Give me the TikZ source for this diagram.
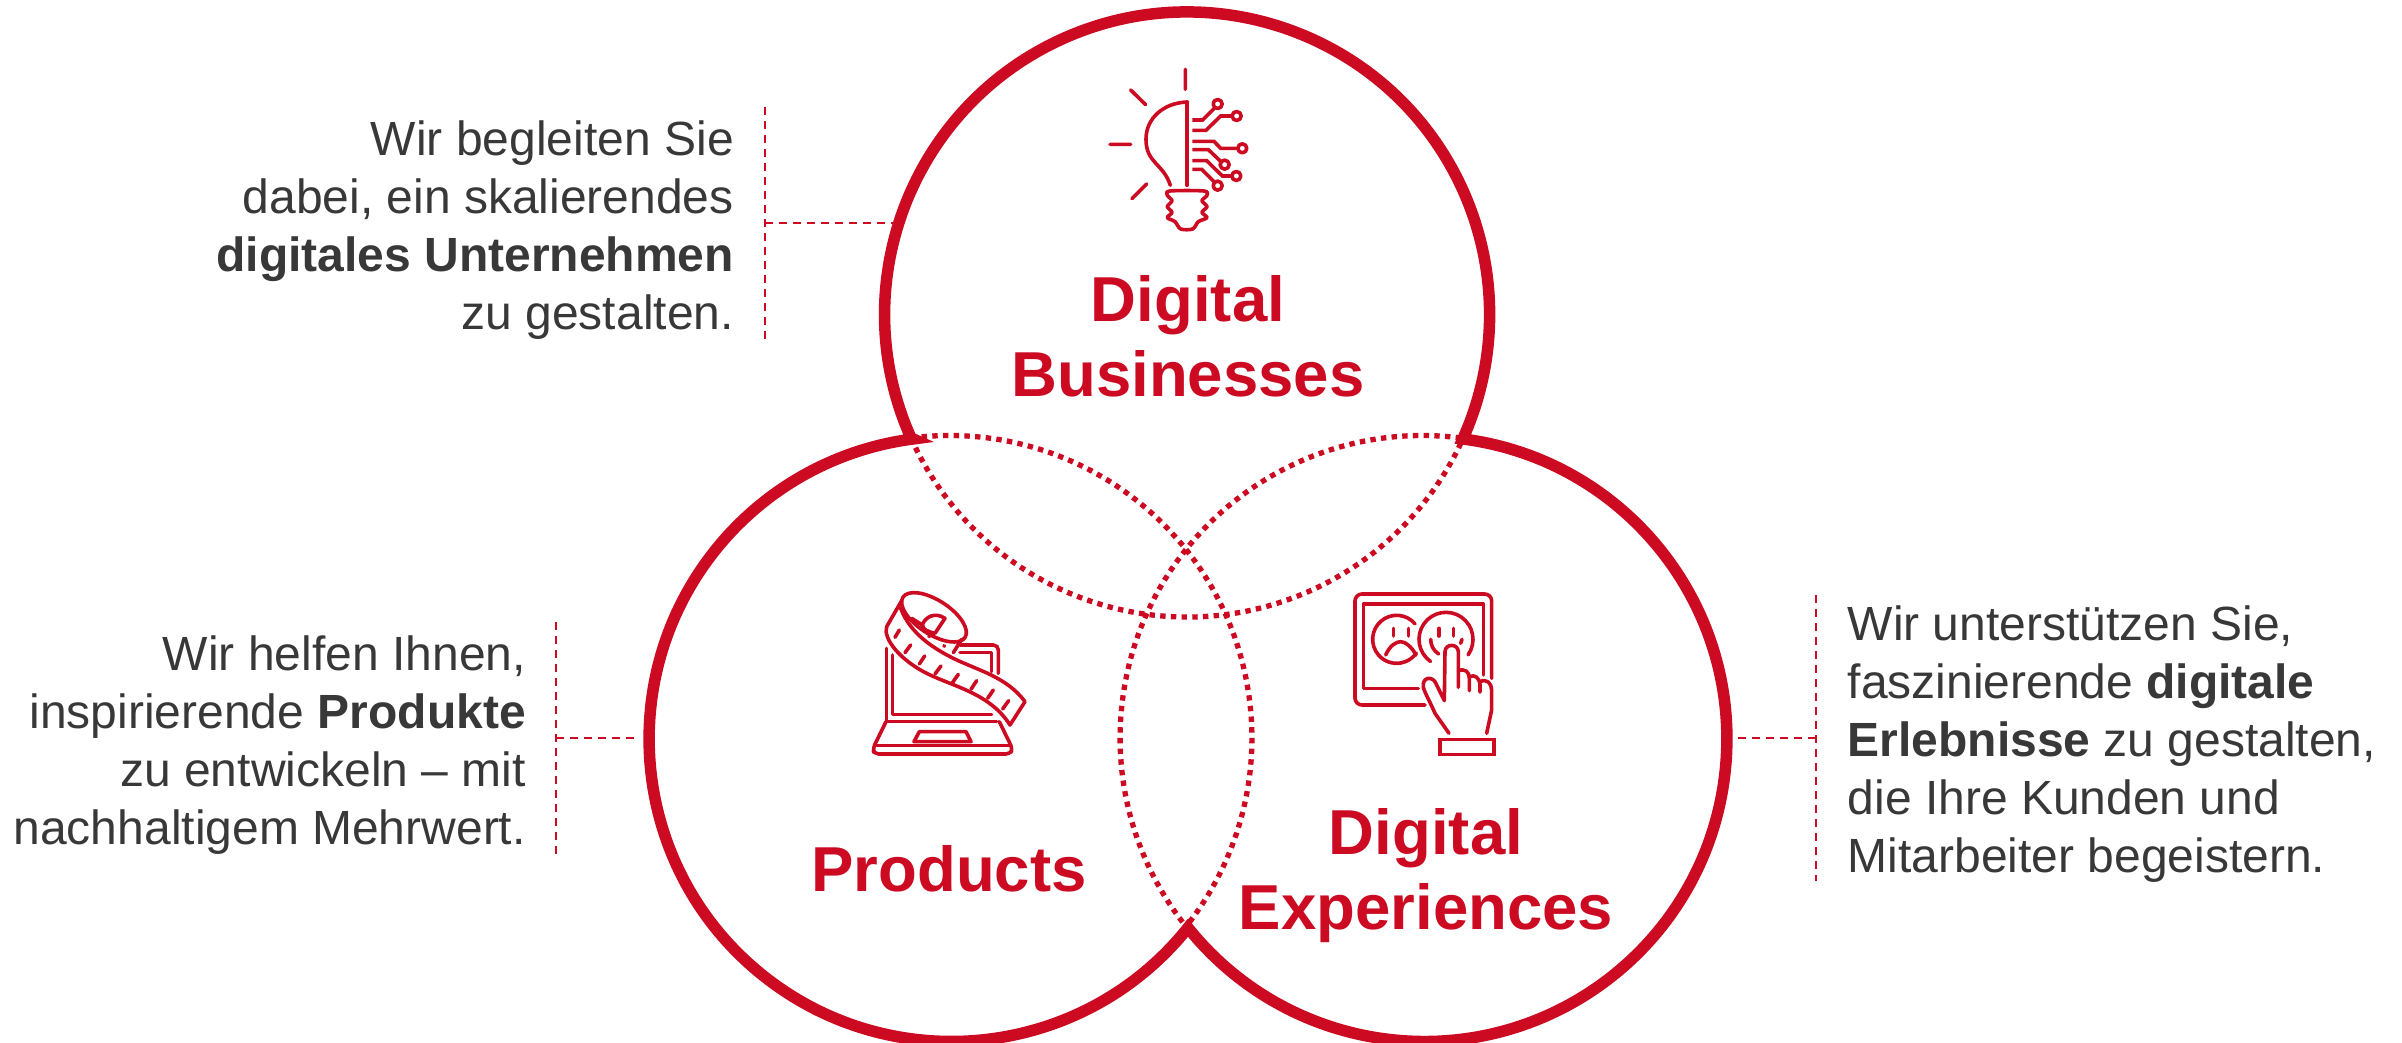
\documentclass[tikz,border=0pt]{standalone}
\usepackage{fontspec}
\setmainfont{Liberation Sans}
\definecolor{brand}{HTML}{CC0A22}
\definecolor{ink}{HTML}{383838}
\tikzset{
  outline/.style={draw=brand,line width=11.5pt,miter limit=10},
  dotline/.style={draw=brand,line width=5.3pt,dash pattern=on 5.4pt off 5.3pt},
  leader/.style={draw=brand,line width=1.6pt,dash pattern=on 8pt off 6pt},
  title/.style={text=brand,font=\fontsize{63.5}{75}\selectfont\bfseries,align=center,inner sep=0pt},
  body/.style={text=ink,font=\fontsize{48}{57.8}\selectfont,inner sep=0pt},
  ico/.style={draw=brand,line width=3.6pt,line cap=round,line join=round},
  icon scale/.style={x=0.3333pt,y=-0.3333pt}
}
\begin{document}
\begin{tikzpicture}[x=1pt,y=-1pt]
\useasboundingbox (0,0) rectangle (2402,1043);
\fill[white] (0,0) rectangle (2402,1043);
\coordinate (L) at (911,438);
\coordinate (R) at (1461,438);
\coordinate (B) at (1186,926.6);
% dotted inner arcs
\draw[dotline] (L) arc[start angle=204.1,end angle=335.7,radius=302.5pt];
\draw[dotline] (L) arc[start angle=97.3,end angle=-38.6,radius=302.5pt];
\draw[dotline] (R) arc[start angle=82.7,end angle=218.6,radius=302.5pt];
% outer contour
\draw[outline] (L) arc[start angle=204.1,end angle=-24.3,radius=302.5pt]
  arc[start angle=82.7,end angle=-141.4,radius=302.5pt]
  arc[start angle=-38.6,end angle=-262.7,radius=302.5pt] -- cycle;
% titles
\node[title,anchor=base] (tdb) at (1188,396) {Digital\\[0pt]Businesses};
\node[title,anchor=base] (tp) at (949,891) {Products};
\node[title,anchor=base] (tde) at (1426,929) {Digital\\[0pt]Experiences};
% texts
\node[body,align=right,anchor=east] (t1) at (734,230) {Wir begleiten Sie\\dabei, ein skalierendes\\\textbf{digitales Unternehmen}\\zu gestalten.};
\node[body,align=right,anchor=east] (t2) at (526,745) {Wir helfen Ihnen,\\inspirierende \textbf{Produkte}\\zu entwickeln -- mit\\nachhaltigem Mehrwert.};
\node[body,align=left,anchor=west] (t3) at (1847.5,744) {Wir unterstützen Sie,\\faszinierende \textbf{digitale}\\\textbf{Erlebnisse} zu gestalten,\\die Ihre Kunden und\\Mitarbeiter begeistern.};
% leaders
\coordinate (a1) at (765,107); \coordinate (a2) at (765,339);
\coordinate (a3) at (765,223); \coordinate (a4) at (893,223);
\draw[leader] (a1) -- (a2); \draw[leader] (a3) -- (a4);
\coordinate (b1) at (556,622); \coordinate (b2) at (556,855);
\coordinate (b3) at (556,738); \coordinate (b4) at (637,738);
\draw[leader] (b1) -- (b2); \draw[leader] (b3) -- (b4);
\coordinate (c1) at (1816,595); \coordinate (c2) at (1816,881);
\coordinate (c3) at (1816,738); \coordinate (c4) at (1733,738);
\draw[leader] (c1) -- (c2); \draw[leader] (c3) -- (c4);
% bulb
\begin{scope}[shift={(1060,50)},icon scale]
\draw[ico] (376,58)--(376,118) (212,120)--(257,164) (150,283)--(212,283) (216,446)--(260,402);
\draw[ico] (383,156) .. controls (310,158) and (258,205) .. (258,268) .. controls (258,340) and (310,340) .. (331,406);
\draw[ico] (381,156)--(381,406);
\draw[ico] plot[smooth cycle,tension=0.5] coordinates {(330,423)(432,423)(441,436)(426,452)(441,470)(426,487)(441,503)(415,515)(398,537)(362,537)(345,515)(322,503)(336,487)(322,470)(336,452)(322,436)};
\draw[ico,line cap=butt,line join=miter]
 (397,210)--(428,210)--(464,174)
 (397,241)--(438,241)--(482,198)--(517,198)
 (397,274)--(462,274)--(482,295)--(534,295)
 (397,299)--(445,299)--(484,336)
 (397,332)--(440,332)--(487,378)--(516,378)
 (397,358)--(425,358)--(464,397);
\draw[ico] (473,162) circle[radius=4.5pt] (530,198) circle[radius=4.5pt] (547,295) circle[radius=4.5pt]
 (494,344) circle[radius=4.5pt] (529,378) circle[radius=4.5pt] (473,407) circle[radius=4.5pt];
\end{scope}
% laptop and tape
\begin{scope}[shift={(860,580)},icon scale]
\draw[ico] (80,205)--(80,425)--(410,425);
\draw[ico] (98,225)--(98,403)--(395,403);
\draw[ico,rounded corners=5pt] (300,195)--(415,195)--(415,280);
\draw[ico] (300,218)--(395,218)--(395,275);
\draw[ico,rounded corners=4pt] (78,425)--(38,507)--(44,522)--(450,522)--(458,507)--(418,425);
\draw[ico] (45,497)--(450,497);
\draw[ico] (178,455)--(318,455)--(333,485)--(162,485)--cycle;
\draw[ico] (222,112) ellipse[x radius=37pt,y radius=17pt,rotate=-33];
\draw[ico] (125,62)--(80,140) .. controls (68,175) and (120,240) .. (200,280) .. controls (280,320) and (390,340) .. (450,435)--(495,365) .. controls (440,290) and (350,270) .. (280,235) .. controls (220,205) and (150,160) .. (122,85);
\draw[ico] (280,218)--(305,178);
\draw[ico] (155,115)--(190,137) (186,137) .. controls (195,110) and (225,95) .. (255,115) -- (225,160) (185,135) .. controls (190,150) and (205,155) .. (225,160);
\draw[ico] (207,168)--(208,170) (252,197)--(253,199);
\draw[ico] (105,172)--(118,150) (135,218)--(152,195) (178,252)--(194,228) (225,282)--(243,258)
 (278,307)--(295,283) (333,328)--(350,302) (383,355)--(400,330) (428,387)--(446,362);
\end{scope}
% touch screen
\begin{scope}[shift={(1340,580)},icon scale]
\draw[ico,rounded corners=7pt] (255,375)--(45,375)--(45,42)--(455,42)--(455,295);
\draw[ico] (235,326)--(70,326)--(70,72)--(430,72)--(430,285);
\draw[ico] (170,178) ++(40:24pt) arc[start angle=40,end angle=325,radius=24pt];
\draw[ico] (160,145)--(160,168) (205,145)--(205,168) (297,145)--(297,168) (340,145)--(340,168);
\draw[ico] (137,225) .. controls (150,195) and (170,185) .. (182,185) .. controls (195,185) and (215,200) .. (228,225);
\draw[ico] (318,178) ++(235:27pt) arc[start angle=235,end angle=-35,radius=27pt];
\draw[ico] (272,178) .. controls (272,195) and (280,212) .. (296,222) (366,178)--(362,190);
\draw[ico] (327,460)--(285,400) .. controls (270,365) and (255,340) .. (250,322) .. controls (245,290) and (280,285) .. (290,315)--(313,362)--(315,215) .. controls (316,190) and (354,190) .. (355,215)--(355,322);
\draw[ico] (355,272) .. controls (375,265) and (388,275) .. (388,295)--(388,332);
\draw[ico] (388,290) .. controls (405,282) and (418,295) .. (420,312)--(420,336);
\draw[ico] (420,305) .. controls (440,295) and (455,310) .. (455,330)--(455,390)--(440,460);
\draw[ico,line cap=butt,line join=miter] (300,478) rectangle (462,523);
\end{scope}
\end{tikzpicture}
\end{document}
